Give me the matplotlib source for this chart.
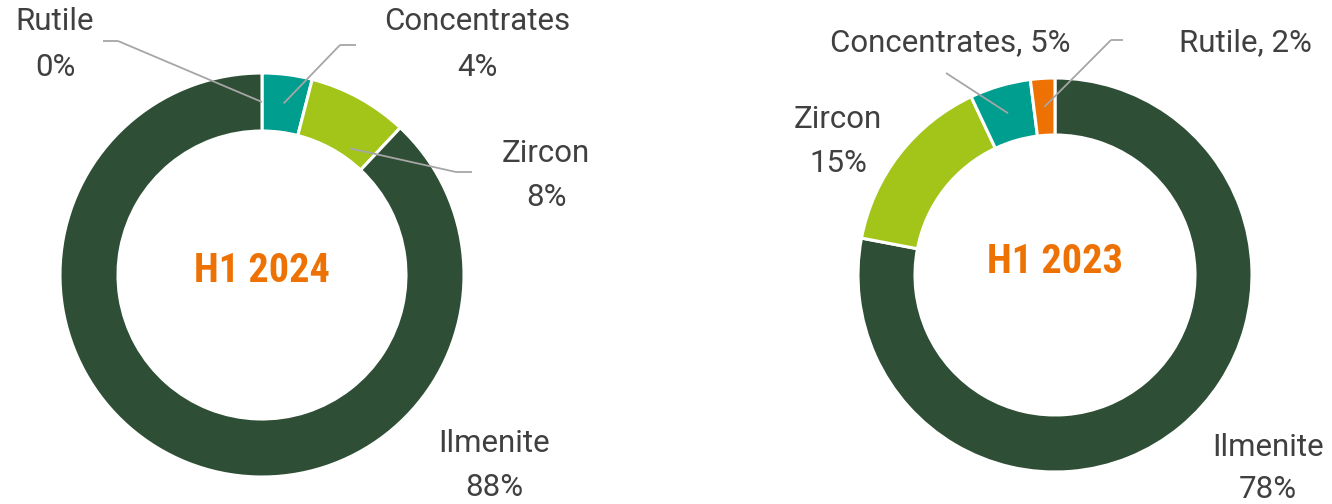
import numpy as np
import matplotlib
matplotlib.use('Agg')
import matplotlib.pyplot as plt

W, H = 1332, 504

# data
cats_2024 = ["Rutile", "Concentrates", "Zircon", "Ilmenite"]
vals_2024 = [0, 4, 8, 88]
cats_2023 = ["Ilmenite", "Zircon", "Concentrates", "Rutile"]
vals_2023 = [78, 15, 5, 2]

colors = {"Ilmenite": "#2E4E35", "Zircon": "#A3C51A",
          "Concentrates": "#009E8F", "Rutile": "#EE7203"}
txt_col = "#404040"
line_col = "#A6A6A6"
orange = "#EE7203"
font = "Roboto"
title_font = ['Roboto Condensed', 'Liberation Sans Narrow', 'Roboto']

fig = plt.figure(figsize=(W / 100, H / 100), dpi=100)
ax = fig.add_axes([0, 0, 1, 1])


def py(y):
    # pixel row -> data y
    return H - y


def donut(cx, cy, r, width, cats, vals):
    ax.pie(vals, colors=[colors[c] for c in cats], center=(cx, py(cy)), radius=r,
           startangle=90, counterclock=False, frame=True,
           wedgeprops=dict(width=width, edgecolor='white', linewidth=2.2))
    # anchor points on mid ring for leaders
    anchors = {}
    tot = sum(vals)
    cum = 0
    for c, v in zip(cats, vals):
        mid = (cum + v / 2) / tot * 2 * np.pi
        rm = r - width / 2
        anchors[c] = (cx + rm * np.sin(mid), py(cy) + rm * np.cos(mid))
        cum += v
    return anchors


def seg(p0, p1):
    ax.plot([p0[0], p1[0]], [p0[1], p1[1]], color=line_col, lw=1.3,
            solid_capstyle='butt')


def px(x, y):
    return (x, py(y))


def label(x, y, s, ha='center'):
    ax.text(x, py(y), s, fontsize=22.5, color=txt_col, ha=ha, va='center',
            family=font)


# left donut, H1 2024
a = donut(262, 275, 202, 58, cats_2024, vals_2024)
seg(px(103, 41), px(118, 41))
seg(px(118, 41), a["Rutile"])
seg(a["Concentrates"], px(340, 45))
seg(px(340, 45), px(356, 45))
seg((a["Zircon"][0] + 5, a["Zircon"][1] - 25), px(456, 172))
seg(px(456, 172), px(472, 172))

label(55, 22, "Rutile")
label(55, 68, "0%")
label(477, 22, "Concentrates")
label(477, 68, "4%")
label(546, 153, "Zircon")
label(546, 197, "8%")
label(494, 443, "Ilmenite")
label(494, 488, "88%")
ax.text(262, py(271), "H1 2024", fontsize=29, color=orange, ha='center', va='center',
        family=title_font, weight='bold')

# right donut, H1 2023
b = donut(1055, 275, 197, 57, cats_2023, vals_2023)
seg(px(946, 73), b["Concentrates"])
seg(px(1123, 40), px(1111, 40))
seg(px(1111, 40), b["Rutile"])

label(950, 43, "Concentrates, 5%")
label(1245, 43, "Rutile, 2%")
label(838, 120, "Zircon")
label(838, 163, "15%")
label(1268, 448, "Ilmenite")
label(1268, 490, "78%")
ax.text(1055, py(262), "H1 2023", fontsize=29, color=orange, ha='center', va='center',
        family=title_font, weight='bold')

ax.set_xlim(0, W)
ax.set_ylim(0, H)
ax.set_aspect('equal')
ax.axis('off')

fig.savefig("out.png", dpi=100, facecolor='white')
